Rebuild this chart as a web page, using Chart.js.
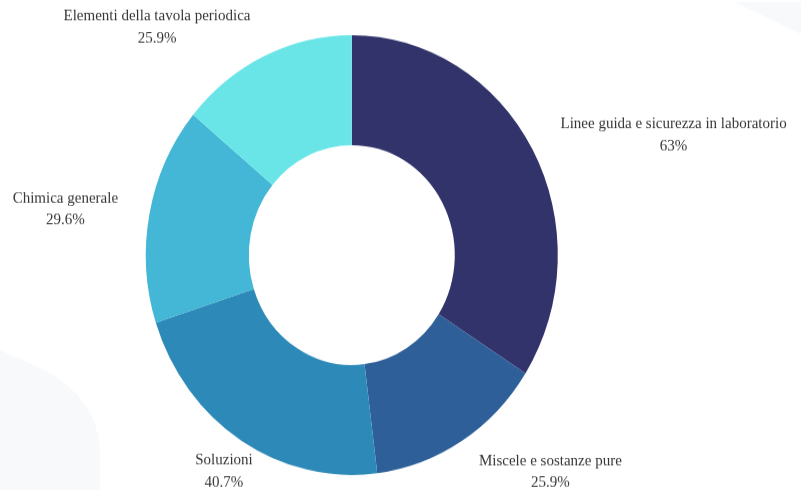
<!DOCTYPE html>
<html lang="it">
<head>
<meta charset="utf-8">
<title>Argomenti</title>
<script src="https://cdn.jsdelivr.net/npm/chart.js@4/dist/chart.umd.min.js"></script>
<style>
  html { margin: 0; padding: 0; background: #ffffff; overflow: hidden; }
  body { margin: 0; padding: 0; background: #ffffff; height: 490px; }
  #wrap {
    width: 801px; height: 459px;
    transform: scaleY(1.0675); transform-origin: 0 0;
  }
  canvas { display: block; }
</style>
</head>
<body>
<div id="wrap"><canvas id="chart" width="801" height="459"></canvas></div>
<script>
// Topics and their share values
const categories = [
  'Linee guida e sicurezza in laboratorio',
  'Miscele e sostanze pure',
  'Soluzioni',
  'Chimica generale',
  'Elementi della tavola periodica'
];
const values = [63, 25.9, 40.7, 29.6, 25.9];
const sliceColors = ['#31336a', '#2e5f98', '#2d8ab8', '#43b7d5', '#69e5e8'];

// Horizontal placement of each outside label relative to its anchor point
const labelAlign = ['left', 'left', 'center', 'right', 'right'];

// Soft background shapes
const backdrop = {
  id: 'backdrop',
  beforeDraw(chart) {
    const ctx = chart.ctx;
    ctx.save();
    ctx.fillStyle = '#f8f9fb';
    ctx.beginPath();
    ctx.moveTo(0, 328);
    ctx.bezierCurveTo(40, 345, 95, 360, 100, 420);
    ctx.lineTo(100, 459);
    ctx.lineTo(0, 459);
    ctx.closePath();
    ctx.fill();
    ctx.beginPath();
    ctx.moveTo(735, 2);
    ctx.lineTo(801, 2);
    ctx.lineTo(801, 32);
    ctx.closePath();
    ctx.fill();
    ctx.restore();
  }
};

// Two-line labels (name + value) placed just outside each slice
const outsideLabels = {
  id: 'outsideLabels',
  afterDatasetsDraw(chart) {
    const ctx = chart.ctx;
    const meta = chart.getDatasetMeta(0);
    const ds = chart.data.datasets[0];
    ctx.save();
    ctx.font = '15px "Liberation Serif", "Times New Roman", serif';
    ctx.fillStyle = '#363636';
    ctx.textAlign = 'center';
    ctx.textBaseline = 'middle';
    meta.data.forEach((arc, i) => {
      const p = arc.getProps(['x', 'y', 'startAngle', 'endAngle', 'outerRadius'], true);
      const mid = (p.startAngle + p.endAngle) / 2;
      const r = p.outerRadius + 32;
      const ax = p.x + Math.cos(mid) * r;
      const ay = p.y + Math.sin(mid) * r + 2;
      const lines = [chart.data.labels[i], ds.data[i] + '%'];
      const w = Math.max(...lines.map(t => ctx.measureText(t).width));
      let cx = ax;
      if (labelAlign[i] === 'left') cx = ax + w / 2;
      else if (labelAlign[i] === 'right') cx = ax - w / 2;
      const lh = 20.4;
      ctx.fillText(lines[0], cx, ay - lh / 2);
      ctx.fillText(lines[1], cx, ay + lh / 2);
    });
    ctx.restore();
  }
};

new Chart(document.getElementById('chart'), {
  type: 'doughnut',
  data: {
    labels: categories,
    datasets: [{
      data: values,
      backgroundColor: sliceColors,
      borderWidth: 0,
      hoverOffset: 0,
      offset: 0
    }]
  },
  options: {
    responsive: false,
    animation: false,
    radius: 206,
    cutout: '50%',
    layout: { padding: { left: 0, right: 97.4, top: 18.8, bottom: 0 } },
    plugins: {
      legend: { display: false },
      tooltip: { enabled: false }
    }
  },
  plugins: [backdrop, outsideLabels]
});
</script>
</body>
</html>
